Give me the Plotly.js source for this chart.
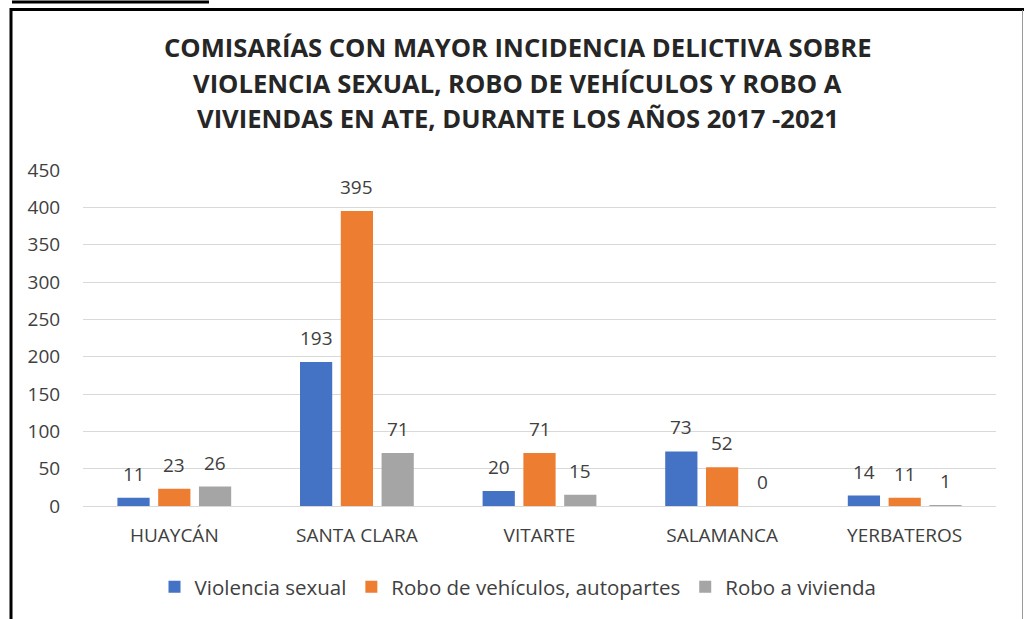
<!DOCTYPE html>
<html>
<head>
<meta charset="utf-8">
<script src="https://cdn.plot.ly/plotly-3.0.1.min.js"></script>
<style>html,body{margin:0;padding:0;background:#fff;}#chart{width:1025px;height:619px;}</style>
</head>
<body>
<div id="chart"></div>
<script>
const categories = ["HUAYCÁN", "SANTA CLARA", "VITARTE", "SALAMANCA", "YERBATEROS"];
const seriesNames = ["Violencia sexual", "Robo de vehículos, autopartes", "Robo a vivienda"];
const violenciaSexual = [11, 193, 20, 73, 14];
const roboVehiculos = [23, 395, 71, 52, 11];
const roboVivienda = [26, 71, 15, 0, 1];
const yTicks = [0, 50, 100, 150, 200, 250, 300, 350, 400, 450];
const titleLines = [
  "COMISARÍAS CON MAYOR INCIDENCIA DELICTIVA SOBRE",
  "VIOLENCIA SEXUAL, ROBO DE VEHÍCULOS Y ROBO A",
  "VIVIENDAS EN ATE, DURANTE LOS AÑOS 2017 -2021"
];

const colors = ["#4472C4", "#ED7D31", "#A5A5A5"];
const allSeries = [violenciaSexual, roboVehiculos, roboVivienda];
const FONT = "Open Sans, sans-serif";
const SMALL = 19;

const W = 1025, H = 619;
const M = {l: 83, r: 29, t: 170, b: 113};
const PW = W - M.l - M.r, PH = H - M.t - M.b;
const px = v => (v - M.l) / PW;
const py = v => (H - M.b - v) / PH;

const traces = allSeries.map((vals, i) => ({
  type: "bar",
  name: seriesNames[i],
  x: categories,
  y: vals,
  marker: {color: colors[i]},
  hoverinfo: "x+y+name"
}));

const annotations = [];
const groupGap = 0.33, barGroupGap = 0.21;
const catPx = PW / categories.length;
const slot = catPx * (1 - groupGap) / allSeries.length;
allSeries.forEach((vals, i) => {
  vals.forEach((v, j) => {
    annotations.push({
      x: categories[j], y: v, xref: "x", yref: "y",
      text: String(v), showarrow: false,
      xshift: (i - 1) * slot, yshift: 9, yanchor: "bottom",
      font: {family: FONT, size: SMALL, color: "#404040"}
    });
  });
});
titleLines.forEach((t, k) => {
  annotations.push({
    x: px(517.5), y: py(48 + 35 * k), xref: "paper", yref: "paper",
    text: "<b>" + t + "</b>", showarrow: false,
    xanchor: "center", yanchor: "middle",
    font: {family: FONT, size: 25.6, color: "#262626"}
  });
});

const frame = [
  {x0: px(12), x1: px(209), y0: py(2), y1: py(2), color: "#000", w: 3},
  {x0: px(10), x1: px(1024), y0: py(9.5), y1: py(9.5), color: "#000", w: 3},
  {x0: px(11), x1: px(11), y0: py(8), y1: py(625), color: "#000", w: 3},
  {x0: px(1022.5), x1: px(1022.5), y0: py(10), y1: py(625), color: "#9a9a9a", w: 1}
].map(s => ({type: "line", xref: "paper", yref: "paper", x0: s.x0, x1: s.x1, y0: s.y0, y1: s.y1,
  line: {color: s.color, width: s.w}, layer: "above"}));

const layout = {
  width: W, height: H,
  margin: M,
  paper_bgcolor: "#fff", plot_bgcolor: "#fff",
  barmode: "group", bargap: groupGap, bargroupgap: barGroupGap,
  showlegend: true,
  legend: {orientation: "h", x: px(518), xanchor: "center", y: py(587), yanchor: "middle",
    font: {family: FONT, size: 20.5, color: "#404040"}, itemwidth: 30, traceorder: "normal"},
  xaxis: {type: "category", categoryorder: "array", categoryarray: categories,
    showgrid: false, zeroline: false, showline: true, linecolor: "#D9D9D9", linewidth: 1,
    ticks: "outside", ticklen: 12, tickcolor: "rgba(0,0,0,0)",
    tickfont: {family: FONT, size: SMALL, color: "#404040"}, fixedrange: true},
  yaxis: {range: [0, 450], tickvals: yTicks, ticktext: yTicks.map(String),
    showgrid: true, gridcolor: "#D9D9D9", gridwidth: 1, zeroline: false, showline: false,
    ticks: "outside", ticklen: 18, tickcolor: "rgba(0,0,0,0)",
    tickfont: {family: FONT, size: SMALL, color: "#404040"}, fixedrange: true},
  annotations: annotations,
  shapes: frame,
  font: {family: FONT}
};

Plotly.newPlot("chart", traces, layout, {displayModeBar: false, responsive: false});
</script>
</body>
</html>
